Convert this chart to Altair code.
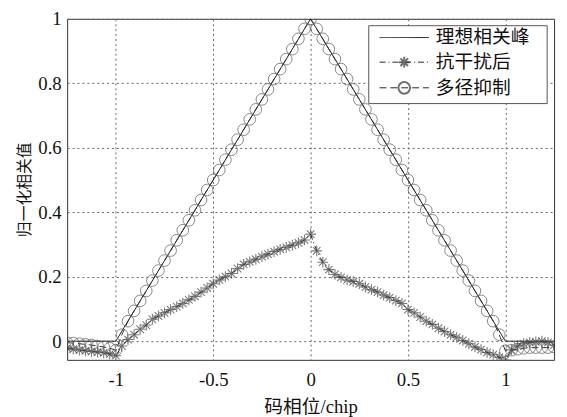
import altair as alt
import pandas as pd

# code phase grid (chip), sample step 1/32
code_phase = [round(-1.25 + i / 32, 5) for i in range(81)]

# ideal correlation peak (triangle)
ideal_x = [-1.25, -1.0, 0.0, 1.0, 1.25]
ideal_y = [0.0, 0.0, 1.0, 0.0, 0.0]

# after anti-jamming (asterisks)
anti_jam = [
    -0.022, -0.025, -0.028, -0.030, -0.032, -0.034, -0.036, -0.040, -0.045,
    -0.015, 0.005, 0.020, 0.037, 0.050, 0.068, 0.078, 0.088, 0.098, 0.107,
    0.117, 0.128, 0.139, 0.152, 0.165, 0.178, 0.190, 0.200, 0.210, 0.225,
    0.238, 0.246, 0.254, 0.262, 0.270, 0.278, 0.285, 0.291, 0.298, 0.305,
    0.314, 0.332, 0.280, 0.245, 0.222, 0.207, 0.198, 0.190, 0.185, 0.178,
    0.168, 0.160, 0.152, 0.143, 0.135, 0.126, 0.117, 0.098, 0.088, 0.075,
    0.062, 0.052, 0.040, 0.030, 0.020, 0.012, 0.002, -0.008, -0.018, -0.026,
    -0.035, -0.042, -0.050, -0.058, -0.027, -0.015, -0.008, -0.004, -0.002,
    0.000, -0.004, -0.012,
]

# multipath suppression (circles)
multipath = [
    -0.005, -0.006, -0.008, -0.010, -0.012, -0.015, -0.018, -0.022, -0.028,
    0.020, 0.062, 0.094, 0.125, 0.156, 0.188, 0.219, 0.250, 0.281, 0.313,
    0.344, 0.375, 0.406, 0.438, 0.469, 0.500, 0.531, 0.563, 0.594, 0.625,
    0.656, 0.688, 0.719, 0.750, 0.781, 0.813, 0.844, 0.875, 0.906, 0.938,
    0.969, 1.000, 0.969, 0.938, 0.906, 0.875, 0.844, 0.813, 0.781, 0.750,
    0.719, 0.688, 0.656, 0.625, 0.594, 0.563, 0.531, 0.500, 0.469, 0.438,
    0.406, 0.375, 0.344, 0.313, 0.281, 0.250, 0.219, 0.188, 0.156, 0.125,
    0.094, 0.062, 0.020, -0.030, -0.028, -0.025, -0.022, -0.020, -0.020,
    -0.020, -0.020, -0.018,
]

legend_labels = ["理想相关峰", "抗干扰后", "多径抑制"]
x_ticks = [-1, -0.5, 0, 0.5, 1]
y_ticks = [0, 0.2, 0.4, 0.6, 0.8, 1]

serif = "Liberation Serif"
cjk = "Noto Sans CJK SC"
asterisk = "M0,-1L0,1M-1,0L1,0M-0.7,-0.7L0.7,0.7M-0.7,0.7L0.7,-0.7"

ideal_df = pd.DataFrame({"x": ideal_x, "y": ideal_y})
jam_df = pd.DataFrame({"x": code_phase, "y": anti_jam})
mp_df = pd.DataFrame({"x": code_phase, "y": multipath})

xscale = alt.Scale(domain=[-1.25, 1.25], nice=False, zero=False)
yscale = alt.Scale(domain=[-0.058, 1.0], nice=False, zero=False)

xaxis = alt.Axis(
    values=x_ticks, title="码相位/chip", grid=True, ticks=False, domain=False,
    labelExpr="datum.value < 0 ? '-' + format(-datum.value, '~g') : format(datum.value, '~g')",
    labelFont=serif, labelFontSize=19, labelColor="#111", labelPadding=11,
    titleFont="Liberation Serif, Noto Sans CJK SC", titleFontSize=19,
    titleFontWeight="normal", titleColor="#111", titlePadding=8,
)
yaxis = alt.Axis(
    values=y_ticks, title="归一化相关值", grid=True, ticks=False, domain=False,
    labelExpr="format(datum.value, '~g')",
    labelFont=serif, labelFontSize=19, labelColor="#111", labelPadding=6,
    titleFont=cjk, titleFontSize=16, titleFontWeight="normal", titleColor="#111",
    titlePadding=5,
)

X = alt.X("x:Q", scale=xscale, axis=xaxis)
Y = alt.Y("y:Q", scale=yscale, axis=yaxis)

ideal = alt.Chart(ideal_df).mark_line(color="#222", strokeWidth=1, clip=True).encode(x=X, y=Y)

jam_line = alt.Chart(jam_df).mark_line(
    color="#222", strokeWidth=1, strokeDash=[6, 3, 1, 3], clip=True
).encode(x="x:Q", y="y:Q")
jam_pts = alt.Chart(jam_df).mark_point(
    shape=asterisk, filled=False, stroke="#444", strokeWidth=1.1, size=120, clip=True
).encode(x="x:Q", y="y:Q")

mp_line = alt.Chart(mp_df).mark_line(
    color="#333", strokeWidth=1, strokeDash=[7, 4], clip=True
).encode(x="x:Q", y="y:Q")
mp_pts = alt.Chart(mp_df).mark_point(
    shape="circle", filled=False, stroke="#555", strokeWidth=1, size=140, clip=True
).encode(x="x:Q", y="y:Q")

one = alt.Data(values=[{}])

legend_box = alt.Chart(one).mark_rect(fill="white", stroke="#555", strokeWidth=1).encode(
    x=alt.value(306), x2=alt.value(487), y=alt.value(7), y2=alt.value(86)
)

rows_y = [19, 44, 70]
dashes = [[1, 0], [6, 3, 1, 3], [7, 4]]
legend_layers = [legend_box]
for label, yy, dash in zip(legend_labels, rows_y, dashes):
    legend_layers.append(
        alt.Chart(one).mark_rule(color="#222", strokeWidth=1, strokeDash=dash).encode(
            x=alt.value(317), x2=alt.value(367), y=alt.value(yy)
        )
    )
    legend_layers.append(
        alt.Chart(one).mark_text(
            text=label, align="left", baseline="middle", font=cjk, fontSize=19, color="#111"
        ).encode(x=alt.value(374), y=alt.value(yy))
    )
legend_layers.append(
    alt.Chart(one).mark_point(shape=asterisk, filled=False, stroke="#333", size=120).encode(
        x=alt.value(342), y=alt.value(rows_y[1])
    )
)
legend_layers.append(
    alt.Chart(one).mark_point(shape="circle", filled=False, stroke="#333", size=140).encode(
        x=alt.value(342), y=alt.value(rows_y[2])
    )
)

chart = alt.layer(
    ideal, jam_line, jam_pts, mp_line, mp_pts, *legend_layers
).properties(
    width=494, height=346,
    autosize=alt.AutoSizeParams(type="none"),
    padding={"left": 60, "top": 8, "right": 5, "bottom": 55},
).configure_view(
    stroke="#333", strokeWidth=1
).configure_axis(
    gridColor="#666", gridDash=[2, 3], gridWidth=1
)

chart.save("out.html", embed_options={"renderer": "svg", "actions": False})
